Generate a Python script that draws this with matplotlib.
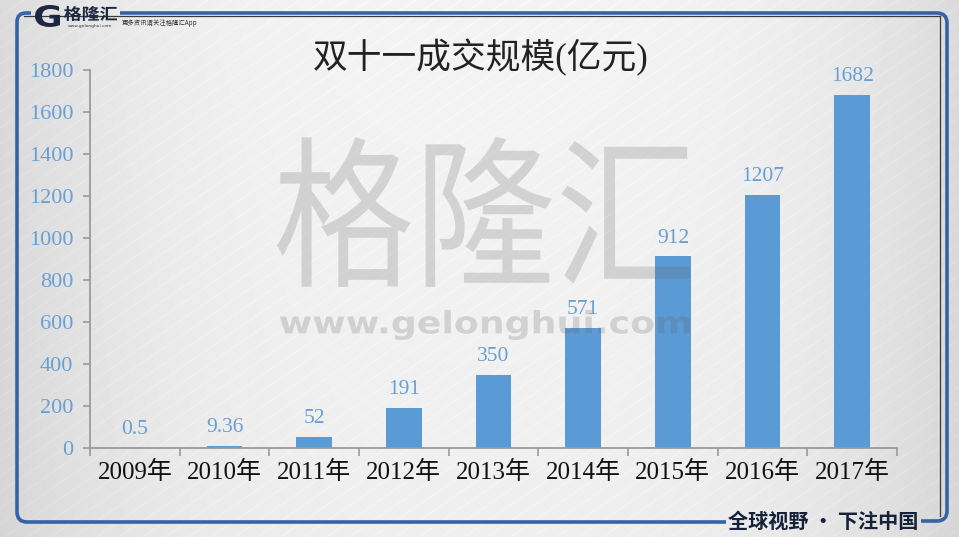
import numpy as np
import matplotlib
matplotlib.use("Agg")
import matplotlib.pyplot as plt
from matplotlib.path import Path
from matplotlib.patches import PathPatch
from matplotlib.textpath import TextPath
from matplotlib.font_manager import FontProperties
from matplotlib.transforms import Affine2D
from matplotlib.ticker import FixedLocator

# ---------------- data ----------------
years = ["2009年", "2010年", "2011年", "2012年", "2013年", "2014年", "2015年", "2016年", "2017年"]
values = [0.5, 9.36, 52, 191, 350, 571, 912, 1207, 1682]
value_labels = ["0.5", "9.36", "52", "191", "350", "571", "912", "1207", "1682"]
y_ticks = [0, 200, 400, 600, 800, 1000, 1200, 1400, 1600, 1800]
title = "双十一成交规模(亿元)"

W, H = 959, 537
SERIF_CJK = ["Liberation Serif", "Noto Sans CJK SC"]
BAR = "#5B9BD5"
LBL = "#6A9FD4"
FRAME_BLUE = "#3463A6"

fig = plt.figure(figsize=(W / 100, H / 100), dpi=100)

# ---------------- background ----------------
bg = fig.add_axes([0, 0, 1, 1], zorder=-10)
bg.set_xlim(0, W)
bg.set_ylim(H, 0)
bg.axis("off")
yy, xx = np.mgrid[0:H, 0:W]
base = 0.955 - 0.10 * (np.abs(xx - W / 2) / (W / 2)) ** 3 - 0.02 * (yy / H)
phase = (xx + 1.45 * yy) / 23.0
stripes = np.clip(np.cos(2 * np.pi * phase) - 0.9, 0, None) * 0.18
img = np.clip(base + stripes, 0, 1)
bg.imshow(img, cmap="gray", vmin=0, vmax=1, extent=(0, W, H, 0), aspect="auto",
          interpolation="bilinear")

M, L, C = Path.MOVETO, Path.LINETO, Path.CURVE3
# thin dark lines
bg.plot([24, 940], [16, 16], color="#3a3a3a", lw=0.9)
bg.plot([940, 940], [16, 516], color="#3a3a3a", lw=0.9)
# left blue bracket
p1 = Path([(31, 13), (26, 13), (17, 13), (17, 22), (17, 512), (17, 522), (27, 522), (726, 522)],
          [M, L, C, C, L, C, C, L])
bg.add_patch(PathPatch(p1, fill=False, ec=FRAME_BLUE, lw=2.6, capstyle="butt"))
# right blue bracket
p2 = Path([(120, 13), (937, 13), (947, 13), (947, 23), (947, 511), (947, 521), (937, 521), (921, 521)],
          [M, L, C, C, L, C, C, L])
bg.add_patch(PathPatch(p2, fill=False, ec=FRAME_BLUE, lw=2.6, capstyle="butt"))

# ---------------- chart ----------------
ax = fig.add_axes([90 / W, 89 / H, (897 - 90) / W, 378 / H])
ax.patch.set_alpha(0)
x = np.arange(len(years))
ax.bar(x, values, width=0.4, color=BAR, zorder=2)
ax.set_xlim(-0.5, len(years) - 0.5)
ax.set_ylim(0, 1800)

for s in ("top", "right"):
    ax.spines[s].set_visible(False)
for s in ("left", "bottom"):
    ax.spines[s].set_color("#9a9a9a")
    ax.spines[s].set_linewidth(1.3)

ax.set_yticks(y_ticks)
ax.set_yticklabels([str(v) for v in y_ticks], fontfamily="Liberation Serif", fontsize=16, color=LBL)
ax.tick_params(axis="y", direction="out", length=5, width=1.2, color="#9a9a9a", pad=7)

ax.set_xticks(x)
ax.set_xticklabels(years, fontfamily=SERIF_CJK, fontsize=18, color="#111111")
ax.xaxis.set_minor_locator(FixedLocator(np.arange(-0.5, len(years), 1.0)))
ax.tick_params(axis="x", which="major", length=0, pad=9)
ax.tick_params(axis="x", which="minor", direction="out", length=6, width=1.2, color="#9a9a9a")

for xi, v, lab in zip(x, values, value_labels):
    ax.annotate(lab, (xi, v), xytext=(0, 10), textcoords="offset points",
                ha="center", va="baseline", fontfamily="Liberation Serif",
                fontsize=15.5, color=LBL)

fig.text(481 / W, 1 - 58 / H, title, ha="center", va="center",
         fontfamily=SERIF_CJK, fontsize=25, color="#222222")

# ---------------- overlay (watermark, logo, footer) ----------------
ov = fig.add_axes([0, 0, 1, 1], zorder=10)
ov.set_xlim(0, W)
ov.set_ylim(H, 0)
ov.axis("off")
ov.patch.set_alpha(0)


def fit_text(axis, s, box, prop, **kw):
    tp = TextPath((0, 0), s, size=1, prop=prop)
    ext = tp.get_extents()
    x0, x1, y0, y1 = box
    sx = (x1 - x0) / ext.width
    sy = (y1 - y0) / ext.height
    tr = (Affine2D().translate(-ext.x0, -ext.y0).scale(sx, -sy).translate(x0, y1))
    path = tr.transform_path(tp)
    axis.add_patch(PathPatch(path, lw=0, **kw))


wm = dict(fc=(0.38, 0.38, 0.38), alpha=0.22)
fit_text(ov, "格隆汇", (277, 690, 137, 287), FontProperties(family="Noto Sans CJK SC"), **wm)
fit_text(ov, "www.gelonghui.com", (280, 690, 310, 340),
         FontProperties(family="DejaVu Sans", weight="bold"), **wm)

# logo
fit_text(ov, "G", (35, 60, 5, 27), FontProperties(family="DejaVu Sans", weight="heavy"), fc="#1d2740")
fit_text(ov, "格隆汇", (64, 117, 6, 21), FontProperties(family="Noto Sans CJK SC", weight="bold"), fc="#1d2740")
ov.text(90, 25.5, "www.gelonghui.com", ha="center", va="center", fontsize=3.2,
        family="DejaVu Sans", color="#333333")
ov.text(122, 23, "更多资讯请关注格隆汇App", ha="left", va="center", fontsize=4.6,
        family=["Noto Sans CJK SC", "DejaVu Sans"], color="#333333")

# footer
ov.text(823, 521, "全球视野 • 下注中国", ha="center", va="center", fontsize=14.5,
        family=["Noto Sans CJK SC", "DejaVu Sans"], weight="bold", color="#16213a")

fig.savefig("out.png", dpi=100)
